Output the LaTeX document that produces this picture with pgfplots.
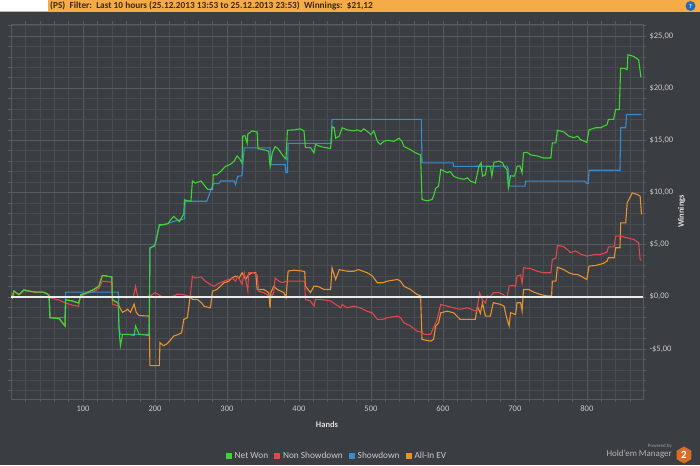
\documentclass[border=0pt]{standalone}
\usepackage{pgfplots}
\pgfplotsset{compat=1.18}
\usepackage{fontspec}
\setmainfont{Carlito}
\usetikzlibrary{shapes.geometric}
\definecolor{bg}{RGB}{58,61,65}
\definecolor{gridmin}{RGB}{72,76,80}
\definecolor{gridmaj}{RGB}{88,92,96}
\definecolor{netgreen}{RGB}{62,212,52}
\definecolor{nsred}{RGB}{222,72,76}
\definecolor{sdblue}{RGB}{58,138,206}
\definecolor{evorange}{RGB}{232,146,47}
\definecolor{ticktext}{RGB}{200,202,204}
\definecolor{hdr}{RGB}{245,172,72}
\definecolor{hdrtext}{RGB}{60,40,15}
\definecolor{logoorange}{RGB}{214,110,40}
\definecolor{helpblue}{RGB}{40,105,180}
\begin{document}
\begin{tikzpicture}
\path[use as bounding box, fill=bg] (0pt,0pt) rectangle (700pt,465pt);
% header bar
\fill[hdr] (0pt,453pt) rectangle (700pt,465pt);
\fill[white] (0pt,454pt) rectangle (48pt,465pt);
\node[anchor=west, inner sep=0pt, text=hdrtext, font=\fontsize{9.3}{9.5}\selectfont\bfseries] at (50pt,459pt)
  {(PS)\ \ Filter:\ \ Last 10 hours (25.12.2013 13:53 to 25.12.2013 23:53)\ \ Winnings:\ \ \$21,12};
\fill[helpblue] (690.5pt,459pt) circle (5pt);
\node[text=white, font=\fontsize{6}{6}\selectfont\bfseries, inner sep=0pt] at (690.5pt,459pt) {?};
% logo
\node[anchor=east, inner sep=0pt, text=ticktext!70!bg, font=\fontsize{5}{5}\selectfont] at (672pt,18.5pt) {Powered by};
\node[anchor=east, inner sep=0pt, text=ticktext!85!bg, font=\fontsize{9}{9}\selectfont] at (672pt,10.5pt) {Hold'em Manager};
\node[regular polygon, regular polygon sides=6, shape border rotate=30, minimum size=17pt, fill=logoorange, inner sep=0pt, text=white, font=\fontsize{11}{11}\selectfont\bfseries] at (684pt,10pt) {2};
\begin{axis}[
  at={(11pt,66pt)}, anchor=south west, scale only axis,
  width=632pt, height=375pt,
  xmin=0, xmax=878, ymin=-9.8, ymax=26.15,
  xtick={100,200,...,800},
  minor xtick={20,40,...,860},
  ytick={-5,0,5,10,15,20,25},
  yticklabels={{-\$5,00},{\$0,00},{\$5,00},{\$10,00},{\$15,00},{\$20,00},{\$25,00}},
  minor ytick={-9,-8,...,26},
  grid=both,
  major grid style={color=gridmaj, line width=0.6pt},
  minor grid style={color=gridmin, line width=0.5pt},
  axis line style={color=gridmaj, line width=0.6pt},
  tick align=outside, major tick length=3pt, minor tick length=3pt,
  tick style={color=gridmaj, line width=0.5pt},
  yticklabel pos=right,
  /pgf/number format/assume math mode=true,
  ticklabel style={font=\fontsize{8.5}{9}\selectfont, text=ticktext},
  xlabel={Hands}, ylabel={Winnings},
  every axis x label/.style={at={(rel axis cs:0.5,0)}, yshift=-26pt, anchor=center, font=\fontsize{8.5}{9}\selectfont\bfseries, text=ticktext!60!white},
  every axis y label/.style={at={(rel axis cs:1,0.5)}, xshift=38.7pt, anchor=center, rotate=90, font=\fontsize{8.5}{9}\selectfont\bfseries, text=ticktext!60!white},
  legend columns=4,
  legend style={at={(0.5158,-0.152)}, anchor=center, draw=none, fill=none, text=ticktext, font=\fontsize{9.3}{10}\selectfont,
    /tikz/every odd column/.append style={column sep=1.5pt},
    /tikz/every even column/.append style={column sep=4pt}},
  legend cell align=left,
]
\addlegendimage{legend image code/.code={\fill[netgreen] (0pt,-2.5pt) rectangle (5pt,2.5pt);}}
\addlegendentry{Net Won}
\addlegendimage{legend image code/.code={\fill[nsred] (0pt,-2.5pt) rectangle (5pt,2.5pt);}}
\addlegendentry{Non Showdown}
\addlegendimage{legend image code/.code={\fill[sdblue] (0pt,-2.5pt) rectangle (5pt,2.5pt);}}
\addlegendentry{Showdown}
\addlegendimage{legend image code/.code={\fill[evorange] (0pt,-2.5pt) rectangle (5pt,2.5pt);}}
\addlegendentry{All-In EV}
% All-In EV
\addplot[evorange, line width=1.1pt, forget plot] coordinates {
(0,0) (2,-0.1) (4,0.55) (11,0.2) (18,0.65) (25,0.55) (34,0.45) (44,0.45) (50,0.3) (53,0.1) (54,-2.0) (67,-2.1) (75,-2.8) (76,-0.3) (85,-0.4) (94,-0.6) (97,0.2) (104,0.35) (115,0.7) (122,1.0) (127,2.05) (140,1.9) (141,-0.3) (149,-0.6) (150,-0.9) (155,-1.5) (162,-1.2) (166,-1.5) (171,-0.7) (174,-1.5) (178,-1.8) (192,-1.85) (193,-6.6) (206,-6.6) (207,-4.4) (212,-4.7) (217,-4.5) (221,-4.2) (226,-3.77) (233,-3.6) (237,-3.45) (240,-2.17) (245,-2.0) (249,0.06) (252,-0.26) (259,-0.26) (265,-0.6) (268,-0.9) (277,-1.06) (280,0.54) (286,0.7) (291,1.02) (296,1.34) (303,1.5) (307,1.8) (312,1.98) (317,1.8) (321,2.3) (326,1.66) (330,2.1) (335,2.3) (340,2.3) (342,0.7) (351,0.7) (358,0.4) (360,-1.06) (361,0.4) (365,1.0) (370,0.7) (379,0.4) (382,-0.1) (385,2.46) (393,2.55) (405,2.46) (408,2.4) (409,1.02) (416,0.4) (421,1.02) (426,1.0) (435,0.7) (444,0.7) (446,2.77) (451,1.66) (456,2.6) (467,2.45) (476,2.45) (483,2.6) (495,2.3) (502,2.0) (509,1.34) (516,1.34) (523,1.5) (537,1.66) (541,1.5) (546,1.0) (555,0.7) (564,0.22) (569,0.1) (571,-4.09) (583,-4.25) (587,-4.09) (590,-2.8) (594,-2.5) (597,-1.54) (606,-1.38) (615,-1.54) (624,-2.17) (634,-2.17) (645,-2.17) (648,-0.9) (652,-1.6) (655,-0.6) (659,-1.85) (666,-1.85) (670,-0.57) (680,-0.73) (685,-0.9) (688,-1.85) (692,-2.8) (694,-1.53) (701,-1.7) (703,-0.57) (708,-0.57) (710,-1.37) (712,0.7) (719,0.7) (726,0.45) (735,0.23) (745,0.07) (751,0.07) (752,1.5) (757,1.5) (759,2.84) (768,2.6) (775,2.3) (782,2.14) (787,2.14) (791,2.0) (800,1.66) (803,2.94) (812,3.0) (823,3.2) (828,3.42) (830,3.74) (838,3.74) (840,4.7) (846,4.7) (847,7.09) (854,7.09) (856,9.0) (863,9.96) (870,9.8) (874,9.65) (876,7.89)
};
% Non Showdown
\addplot[nsred, line width=1.1pt, forget plot] coordinates {
(0,0) (4,0.5) (11,0.2) (18,0.6) (25,0.5) (34,0.45) (44,0.45) (53,0.2) (54,-0.1) (66,-0.3) (76,-0.6) (85,-0.8) (94,-0.9) (96,0.0) (104,0.3) (115,0.5) (122,0.8) (127,1.5) (140,1.4) (141,-0.7) (149,-0.9) (150,0.0) (160,-0.1) (170,0.0) (173,1.0) (176,0.0) (192,0.0) (200,0.4) (210,0.0) (222,-0.05) (231,0.25) (240,0.2) (249,0.0) (252,1.98) (256,1.8) (264,1.9) (270,1.5) (277,1.17) (282,1.0) (289,1.3) (296,1.5) (303,1.66) (307,1.8) (312,1.5) (315,1.98) (321,1.2) (324,2.3) (329,0.55) (330,2.3) (337,2.3) (342,2.1) (344,0.54) (351,0.4) (356,0.2) (361,-0.1) (365,0.4) (367,1.8) (372,1.5) (377,1.35) (382,1.5) (393,1.5) (402,1.5) (408,1.5) (409,-0.26) (416,-0.4) (421,-0.9) (423,-0.25) (430,-0.25) (444,-0.4) (458,-1.06) (460,-0.74) (467,-1.06) (476,-0.9) (485,-1.06) (495,-1.4) (502,-1.55) (509,-2.17) (516,-2.17) (523,-2.0) (537,-1.85) (541,-2.0) (546,-2.5) (555,-2.8) (564,-3.3) (571,-3.4) (574,-3.6) (583,-3.6) (588,-2.8) (592,-2.17) (597,-0.74) (606,-0.9) (615,-1.06) (624,-1.2) (634,-1.06) (647,-1.4) (651,0.38) (655,-0.3) (659,-0.6) (662,0.07) (666,0.0) (670,0.38) (678,0.4) (684,0.2) (689,-0.1) (692,1.02) (697,1.1) (701,1.0) (703,1.98) (708,2.1) (710,1.3) (711,1.8) (712,2.78) (722,2.7) (731,2.45) (740,2.3) (750,2.3) (752,3.58) (757,3.7) (759,4.92) (768,4.8) (775,4.4) (777,4.22) (784,4.4) (791,4.1) (800,3.9) (810,4.05) (819,4.05) (828,4.28) (830,4.79) (838,4.79) (840,5.81) (847,5.81) (856,5.65) (865,5.5) (872,5.17) (874,3.58) (876,3.5)
};
% Showdown
\addplot[sdblue, line width=1.1pt, forget plot] coordinates {
(0,0) (53,0) (54,-2.0) (75,-2.0) (76,0.45) (149,0.45) (150,-2.9) (152,-3.6) (192,-3.6) (193,4.6) (200,5.0) (206,6.8) (230,7.3) (241,7.47) (242,9.16) (272,9.16) (281,10.85) (289,10.85) (291,11.1) (310,11.1) (312,10.75) (315,11.55) (321,11.6) (324,14.27) (360,14.27) (361,12.67) (381,12.67) (382,11.9) (384,11.9) (385,14.7) (445,14.7) (446,17.0) (570,17.0) (571,12.83) (614,12.83) (615,12.5) (689,12.52) (691,12.27) (692,10.6) (714,10.6) (715,11.08) (797,11.08) (800,10.86) (802,10.86) (803,12.13) (846,12.13) (847,16.2) (854,16.2) (855,17.47) (876,17.47)
};
% Net Won
\addplot[netgreen, line width=1.1pt, forget plot] coordinates {
(0,0) (2,-0.1) (4,0.55) (11,0.2) (18,0.65) (25,0.55) (34,0.45) (44,0.45) (50,0.3) (53,0.1) (54,-2.0) (67,-2.1) (75,-2.8) (76,-0.3) (85,-0.4) (94,-0.6) (97,0.2) (104,0.35) (115,0.7) (122,1.0) (127,2.05) (140,1.9) (141,-0.3) (149,-0.6) (150,-3.0) (152,-4.7) (155,-3.6) (162,-3.6) (171,-3.7) (173,-2.8) (178,-3.6) (192,-3.7) (193,4.7) (199,4.85) (201,5.2) (206,6.9) (212,6.9) (218,7.0) (222,7.4) (226,7.7) (231,7.4) (234,7.2) (238,7.7) (240,7.9) (241,9.3) (245,9.2) (250,9.16) (252,11.1) (256,10.9) (264,11.1) (268,10.75) (273,10.3) (280,10.3) (281,11.7) (286,11.7) (291,12.0) (298,12.5) (305,12.7) (310,13.0) (314,13.5) (318,13.2) (321,12.8) (322,15.4) (325,15.45) (328,14.7) (329,15.6) (335,15.9) (342,15.8) (343,14.2) (351,14.1) (358,13.95) (360,12.5) (363,13.8) (367,14.4) (371,14.2) (378,13.5) (382,13.2) (384,15.96) (393,16.0) (402,16.1) (407,15.9) (409,14.3) (416,14.3) (421,13.8) (423,14.6) (430,14.4) (444,14.2) (446,16.3) (449,16.2) (451,15.2) (456,15.4) (460,16.2) (467,16.0) (476,15.9) (481,16.0) (486,15.85) (490,16.1) (495,15.85) (500,15.55) (504,15.9) (509,14.9) (513,14.6) (518,14.9) (523,15.0) (532,14.9) (539,15.2) (543,14.9) (546,14.4) (555,14.1) (562,13.8) (569,13.6) (571,9.32) (578,9.2) (585,9.32) (587,9.64) (590,10.4) (594,10.6) (597,12.2) (606,11.9) (610,12.0) (615,11.56) (620,11.4) (629,11.25) (634,11.4) (638,11.1) (645,10.9) (650,12.5) (653,12.84) (655,11.56) (659,11.7) (661,12.5) (666,12.5) (668,11.56) (671,12.9) (678,13.0) (683,12.84) (685,12.5) (689,12.2) (691,10.44) (694,11.6) (699,11.56) (701,11.9) (703,12.5) (707,12.55) (710,11.88) (712,13.8) (717,13.85) (722,13.6) (731,13.5) (740,13.3) (750,13.3) (752,14.75) (757,14.75) (759,15.97) (768,15.8) (775,15.4) (782,15.25) (787,15.4) (791,15.07) (800,14.8) (803,16.0) (812,16.2) (819,16.2) (828,16.5) (830,17.0) (837,17.0) (840,17.95) (845,17.95) (847,21.9) (851,21.9) (856,21.78) (857,23.2) (865,23.05) (872,22.7) (875,21.1) (876,21.12)
};
% zero line
\addplot[white!92!black, line width=1.6pt, forget plot] coordinates {(0,0) (878,0)};
\end{axis}
\end{tikzpicture}
\end{document}
